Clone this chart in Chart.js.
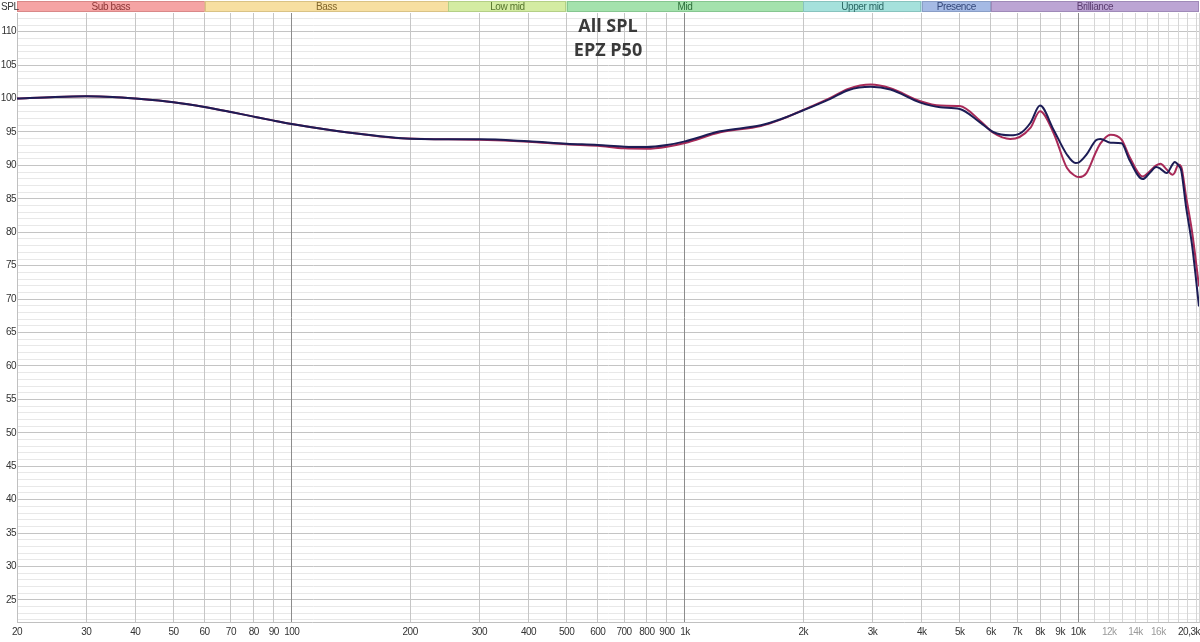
<!DOCTYPE html>
<html><head><meta charset="utf-8">
<script src="https://cdn.jsdelivr.net/npm/chart.js@4"></script>
<style>html,body{margin:0;padding:0;background:#fff;overflow:hidden}</style>
</head><body><canvas id="c" width="1200" height="642"></canvas>
<script>
// ---------- data ----------
const freqs = [20,25,30,35,40,50,60,70,80,90,100,125,150,190,250,300,400,500,600,700,800,900,1000,1230,1560,1750,2000,2350,2600,2970,3330,3970,4460,5000,5640,6080,6720,7100,7560,8000,8660,9370,9850,10050,10500,11100,11400,12100,12900,13500,14600,15200,15800,16200,16800,17400,17600,18000,18300,18800,19500,20300];
const navySPL = [100.0,100.25,100.35,100.25,100.0,99.45,98.75,98.0,97.3,96.7,96.2,95.3,94.7,94.05,93.9,93.9,93.6,93.25,93.05,92.8,92.75,93.05,93.6,95.1,96.0,96.9,98.25,100.0,101.25,101.75,101.35,99.4,98.7,98.45,96.4,95.0,94.5,94.75,96.35,98.95,95.35,91.6,90.35,90.45,91.6,93.75,93.95,93.4,93.3,90.85,87.95,88.85,89.75,89.5,88.85,90.2,90.5,90.0,89.2,84.0,78.0,68.9];
const crimsonSPL = [100.0,100.25,100.35,100.25,100.0,99.45,98.75,98.0,97.3,96.7,96.2,95.3,94.7,94.05,93.9,93.85,93.55,93.15,92.95,92.55,92.5,92.8,93.35,94.95,95.9,96.85,98.3,100.15,101.45,102.1,101.55,99.6,98.95,98.9,96.65,94.9,93.95,94.25,95.6,98.1,94.85,89.6,88.4,88.25,88.85,92.0,93.3,94.6,93.85,91.35,88.35,89.1,90.0,90.25,89.4,88.6,88.9,90.15,89.8,85.5,80.0,71.9];

const xGrid = [20,30,40,50,60,70,80,90,100,200,300,400,500,600,700,800,900,1000,2000,3000,4000,5000,6000,7000,8000,9000,10000,11000,12000,13000,14000,15000,16000,17000,18000,19000,20000,20300];
const xLabels = {20:'20',30:'30',40:'40',50:'50',60:'60',70:'70',80:'80',90:'90',100:'100',200:'200',300:'300',400:'400',500:'500',600:'600',700:'700',800:'800',900:'900',1000:'1k',2000:'2k',3000:'3k',4000:'4k',5000:'5k',6000:'6k',7000:'7k',8000:'8k',9000:'9k',10000:'10k',12000:'12k',14000:'14k',16000:'16k'};
const xLastLabel = '20,3k';
const yLabels = [25,30,35,40,45,50,55,60,65,70,75,80,85,90,95,100,105,110];
const yMin = 21.7, yMax = 112.8;

const bandNames = ['Sub bass','Bass','Low mid','Mid','Upper mid','Presence','Brilliance'];
const bandEdges = [20,60,250,500,2000,4000,6000,20300];
const bandFill = ['#f5a4a4','#f7dfa1','#d4eca2','#a4e2ad','#a5e1dc','#a5bae4','#bca5d4'];
const bandText = ['#8c3434','#80652a','#55742c','#2c6e3a','#2b6763','#34477a','#5a3b6e'];
const bandLine = ['#d98888','#d9c285','#b4cf86','#86c690','#88c3be','#8a9ec6','#9f8ab8'];

const titleLines = ['All SPL','EPZ P50'];

const FONT = '"Liberation Sans", Arial, sans-serif';

// ---------- plugins ----------
const spacing = {
  id:'spacing',
  beforeDraw(chart){ chart.ctx.letterSpacing = '-0.5px'; },
  afterDatasetsDraw(chart){ chart.ctx.letterSpacing = '0px'; }
};
const overlay = {
  id:'overlay',
  afterDraw(chart){
    const ctx = chart.ctx, xs = chart.scales.x, ca = chart.chartArea;
    ctx.save();
    ctx.letterSpacing = '-0.4px';
    ctx.font = '10px ' + FONT;
    ctx.textAlign='center'; ctx.textBaseline='middle';
    for(let i=0;i<bandNames.length;i++){
      const x0 = xs.getPixelForValue(bandEdges[i]), x1 = xs.getPixelForValue(bandEdges[i+1]);
      ctx.fillStyle = bandFill[i];
      ctx.fillRect(x0,1,x1-x0,11);
      ctx.strokeStyle = bandLine[i]; ctx.lineWidth=1;
      ctx.strokeRect(Math.round(x0)+0.5,1.5,Math.round(x1-x0)-1,10);
      ctx.fillStyle = bandText[i];
      ctx.fillText(bandNames[i],(x0+x1)/2,7);
    }
    ctx.fillStyle='#333'; ctx.textAlign='left'; ctx.font='10px ' + FONT;
    ctx.fillText('SPL',1,7);
    ctx.font='10px ' + FONT; ctx.textAlign='right'; ctx.fillStyle='#333';
    ctx.letterSpacing = '-0.5px';
    ctx.fillText(xLastLabel, xs.getPixelForValue(20300)+1, ca.bottom+10);
    ctx.letterSpacing = '0px';
    ctx.font='bold 18px "Open Sans", sans-serif'; ctx.textAlign='center'; ctx.fillStyle='#3a3a3a';
    const cx=(ca.left+ca.right)/2;
    ctx.fillText(titleLines[0],cx,27);
    ctx.fillText(titleLines[1],cx,51);
    ctx.restore();
  }
};

const ds = (data,color)=>({data:freqs.map((f,i)=>({x:f,y:data[i]})),borderColor:color,borderWidth:2,pointRadius:0,fill:false,cubicInterpolationMode:'monotone'});

new Chart(document.getElementById('c'),{
  type:'line',
  data:{datasets:[ds(navySPL,'#1c1c55'),ds(crimsonSPL,'#a82a58')]},
  options:{
    responsive:false,animation:false,devicePixelRatio:1,
    layout:{padding:{top:13,right:1,left:0,bottom:0}},
    plugins:{legend:{display:false},tooltip:{enabled:false},title:{display:false}},
    scales:{
      x:{type:'logarithmic',min:20,max:20300,
        afterBuildTicks:s=>{s.ticks=xGrid.map(v=>({value:v}));},
        afterFit:s=>{s.height=20;s.paddingLeft=0;s.paddingRight=0;},
        ticks:{autoSkip:false,maxRotation:0,minRotation:0,padding:4,
          font:{size:10,family:FONT},
          color:c=>(c.tick && c.tick.value>10000)?'#9a9a9a':'#333',
          callback:v=>xLabels[v]||''},
        grid:{drawTicks:false,lineWidth:1,z:0,
          color:c=>{const v=c.tick?c.tick.value:0; if(v===100||v===1000||v===10000) return '#8c8c8c'; if(v>10000) return '#d6d6d6'; return '#c6c6c6';}},
        border:{color:'#c0c0c0'}
      },
      y:{type:'linear',min:yMin,max:yMax,
        afterBuildTicks:s=>{const t=[];for(let v=22;v<=112;v++)t.push({value:v});s.ticks=t;},
        afterFit:s=>{s.width=17;s.paddingTop=0;s.paddingBottom=0;},
        ticks:{autoSkip:false,padding:1,font:{size:10,family:FONT},color:'#333',
          callback:v=>yLabels.includes(v)?String(v):''},
        grid:{drawTicks:false,lineWidth:1,z:-1,color:c=>(c.tick&&c.tick.value%5===0)?'#c4c4c4':'#e8e8e8'},
        border:{color:'#c0c0c0'}
      }
    }
  },
  plugins:[spacing,overlay]
});
</script></body></html>
